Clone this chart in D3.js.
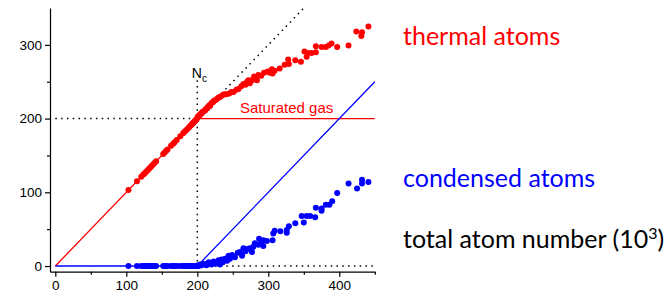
<!DOCTYPE html>
<html>
<head>
<meta charset="utf-8">
<script src="https://cdn.jsdelivr.net/npm/d3@7"></script>
<style>
  body { margin: 0; background: #fff; }
  svg { display: block; }
  .axis text { font-family: "Liberation Sans", Arial, sans-serif; font-size: 13.5px; fill: #000; }
  .axis path, .axis line { stroke: #000; stroke-width: 1.2; }
</style>
</head>
<body>
<svg id="chart" width="672" height="292"></svg>
<script>
// critical atom number and axis extents (units of 10^3 atoms)
const nc = 200;
const xMax = 450;
const yMax = 350;
const xMajorTicks = [0, 100, 200, 300, 400];
const xMinorTicks = [50, 150, 250, 350, 450];
const yMajorTicks = [0, 100, 200, 300];
const yMinorTicks = [50, 150, 250];

// below Nc: every atom is thermal, condensate is empty
const belowNcTotals = [103, 115, 121, 124, 126, 128, 130, 132, 134, 136, 138, 140, 142, 152,
    154, 156, 158, 163, 166, 168, 171, 176, 180, 182, 184, 186, 188, 189, 191, 192, 193, 194,
    195, 196, 197, 198, 199];

// above Nc: [total, thermal]
const thermalAbove = [
    [200, 201], [201, 203], [203, 204], [204, 206], [206, 207], [207, 209], [209, 210],
    [211, 211], [212, 213], [214, 214], [215, 216], [217, 218], [218, 217], [220, 221],
    [222, 222], [223, 224], [225, 225], [227, 226], [229, 228], [231, 229], [233, 230],
    [236, 232], [238, 233], [241, 233], [245, 234], [248, 236], [251, 236], [255, 239],
    [258, 240], [262, 244], [265, 247], [268, 246], [270, 250], [272, 252], [274, 248],
    [277, 252], [280, 257], [282, 255], [284, 252], [286, 259], [290, 258], [294, 262],
    [299, 264], [302, 262], [305, 267], [306, 261], [309, 265], [316, 268], [323, 273],
    [329, 274], [328, 280], [338, 279], [346, 277], [354, 284], [351, 291], [356, 289],
    [361, 289], [367, 290], [367, 298], [375, 297], [381, 297], [385, 299], [389, 302],
    [397, 297], [413, 299], [424, 318], [431, 312], [432, 317], [441, 325]
];

// above Nc: [total, condensed]
const condensedAbove = [
    [201, 1], [202, 0], [204, 2], [206, 1], [209, 3], [211, 2], [213, 1], [216, 5], [218, 3],
    [220, 2], [223, 6], [226, 3], [228, 5], [230, 8], [232, 2], [234, 9], [236, 5], [239, 10],
    [242, 7], [244, 14], [246, 10], [249, 15], [253, 12], [257, 18], [260, 19], [263, 14],
    [265, 24], [268, 20], [270, 23], [274, 24], [277, 19], [279, 26], [281, 31], [286, 29],
    [287, 37], [290, 32], [293, 27], [293, 35], [298, 34], [306, 35], [307, 44], [309, 48],
    [317, 47], [326, 45], [326, 49], [329, 54], [338, 58], [347, 68], [350, 59], [354, 68],
    [359, 68], [366, 66], [367, 79], [375, 75], [375, 78], [381, 83], [386, 83], [390, 88],
    [397, 99], [413, 112], [425, 105], [432, 112], [432, 117], [441, 114]
];

const svg = d3.select("#chart");

const x = d3.scaleLinear().domain([-7.5, xMax]).range([50, 374.8]);
const y = d3.scaleLinear().domain([-7.7, yMax]).range([271.7, 8]);

// axes
const yAxisG = svg.append("g").attr("class", "axis").attr("transform", `translate(${x(-7.5)},0)`);
yAxisG.call(d3.axisLeft(y).tickValues(yMajorTicks).tickSize(5).tickSizeOuter(0).tickPadding(3));
yAxisG.append("g").call(d3.axisLeft(y).tickValues(yMinorTicks).tickSize(3).tickFormat("").tickSizeOuter(0))
    .select(".domain").remove();

const xAxisG = svg.append("g").attr("class", "axis").attr("transform", `translate(0,${y(-7.7)})`);
xAxisG.call(d3.axisBottom(x).tickValues(xMajorTicks).tickSize(5).tickSizeOuter(0).tickPadding(4));
xAxisG.append("g").call(d3.axisBottom(x).tickValues(xMinorTicks).tickSize(3).tickFormat("").tickSizeOuter(0))
    .select(".domain").remove();

// dotted guide lines
const dotted = [
    [[0, nc], [nc, nc]],
    [[nc, 252], [nc, -7.7]],
    [[nc, 0], [xMax, 0]],
    [[nc, nc], [yMax, yMax]]
];
const line = d3.line().x(d => x(d[0])).y(d => y(d[1]));
svg.selectAll(".guide").data(dotted).enter().append("path")
    .attr("class", "guide")
    .attr("d", line)
    .attr("fill", "none")
    .attr("stroke", "#000")
    .attr("stroke-width", 1.5)
    .attr("stroke-dasharray", "1.5,4.3");

// model lines
const thermalModel = [[0, 0], [nc, nc], [xMax, nc]];
const condensedModel = [[0, 0], [nc, 0], [xMax, xMax - nc]];
svg.append("path").attr("d", line(thermalModel)).attr("fill", "none").attr("stroke", "#ff0000").attr("stroke-width", 1.3);
svg.append("path").attr("d", line(condensedModel)).attr("fill", "none").attr("stroke", "#0000ff").attr("stroke-width", 1.3);

// data points
const thermalPts = belowNcTotals.map(n => [n, n]).concat(thermalAbove);
const condensedPts = belowNcTotals.map(n => [n, 0]).concat(condensedAbove);

svg.selectAll(".th").data(thermalPts).enter().append("circle")
    .attr("class", "th")
    .attr("cx", d => x(d[0]))
    .attr("cy", d => y(d[1]))
    .attr("r", 3)
    .attr("fill", "#ff0000");

svg.selectAll(".co").data(condensedPts).enter().append("circle")
    .attr("class", "co")
    .attr("cx", d => x(d[0]))
    .attr("cy", d => y(d[1]))
    .attr("r", 3)
    .attr("fill", "#0000ff");

// annotations
const nLabel = svg.append("text")
    .attr("x", x(nc) - 5.5)
    .attr("y", y(255))
    .attr("font-family", "Liberation Sans, Arial, sans-serif")
    .attr("font-size", 14)
    .text("N");
nLabel.append("tspan").attr("dy", 4).attr("font-size", 10).text("c");

svg.append("text")
    .attr("x", x(260))
    .attr("y", y(nc) - 6)
    .attr("font-family", "Liberation Sans, Arial, sans-serif")
    .attr("font-size", 15)
    .attr("fill", "#ff0000")
    .text("Saturated gas");

const bigFont = "Lato, 'Open Sans', sans-serif";
svg.append("text").attr("x", 403).attr("y", 45)
    .attr("font-family", bigFont).attr("font-size", 25).attr("fill", "#ff0000")
    .text("thermal atoms");
svg.append("text").attr("x", 403).attr("y", 187)
    .attr("font-family", bigFont).attr("font-size", 25).attr("fill", "#0000ff")
    .text("condensed atoms");
const total = svg.append("text").attr("x", 403).attr("y", 248)
    .attr("font-family", bigFont).attr("font-size", 25).attr("fill", "#000")
    .text("total atom number (10");
total.append("tspan").attr("dy", -9).attr("font-size", 16).text("3");
total.append("tspan").attr("dy", 9).text(")");
</script>
</body>
</html>
